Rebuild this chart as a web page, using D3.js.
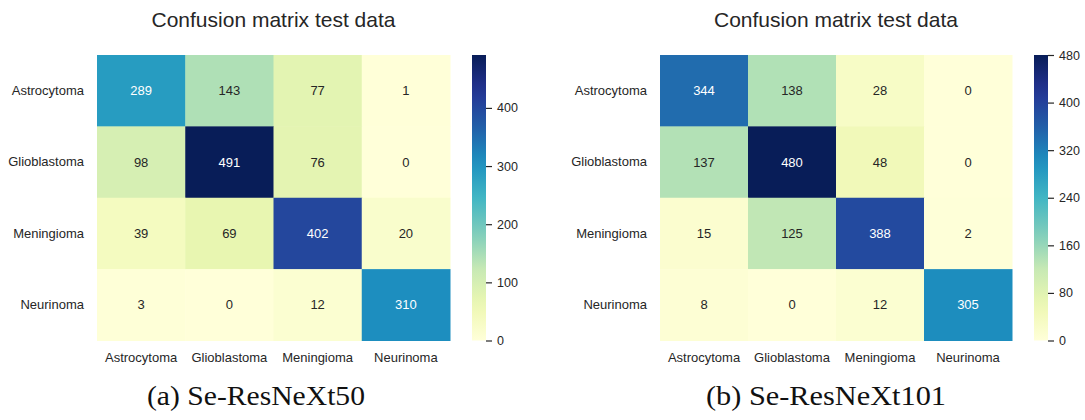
<!DOCTYPE html>
<html>
<head>
<meta charset="utf-8">
<script src="https://cdn.jsdelivr.net/npm/d3@7"></script>
<style>
  html, body { margin: 0; padding: 0; background: #fff; }
  svg { display: block; }
</style>
</head>
<body>
<svg id="chart" width="1085" height="420"></svg>
<script>
// ---------- data ----------
const categories = ["Astrocytoma", "Glioblastoma", "Meningioma", "Neurinoma"];
const matrixA = [
  [289, 143, 77, 1],
  [98, 491, 76, 0],
  [39, 69, 402, 20],
  [3, 0, 12, 310]
];
const matrixB = [
  [344, 138, 28, 0],
  [137, 480, 48, 0],
  [15, 125, 388, 2],
  [8, 0, 12, 305]
];
const colorbarTicksA = [0, 100, 200, 300, 400];
const colorbarTicksB = [0, 80, 160, 240, 320, 400, 480];
const titles = ["Confusion matrix test data", "Confusion matrix test data"];
const captions = ["(a) Se-ResNeXt50", "(b) Se-ResNeXt101"];

// ---------- drawing ----------
const svg = d3.select("#chart");
const palette = d3.schemeYlGnBu[9];
const TEXT = "#262626";
const SANS = "'Liberation Sans', Arial, sans-serif";

function luminance(c) {
  const rgb = d3.rgb(c);
  const f = v => { v /= 255; return v <= 0.03928 ? v / 12.92 : Math.pow((v + 0.055) / 1.055, 2.4); };
  return 0.2126 * f(rgb.r) + 0.7152 * f(rgb.g) + 0.0722 * f(rgb.b);
}

const panels = [
  { matrix: matrixA, ticks: colorbarTicksA, title: titles[0], caption: captions[0],
    x0: 97, x1: 450, cbx: 472, capX: 256, capW: 218, id: "a" },
  { matrix: matrixB, ticks: colorbarTicksB, title: titles[1], caption: captions[1],
    x0: 660, x1: 1012, cbx: 1034, capX: 826, capW: 240, id: "b" }
];
const y0 = 55, y1 = 340.5;

panels.forEach(p => {
  const vmax = d3.max(p.matrix.flat());
  const color = d3.scaleSequential(d3.piecewise(d3.interpolateRgb, palette)).domain([0, vmax]);

  const x = d3.scaleBand().domain(categories).range([p.x0, p.x1]);
  const y = d3.scaleBand().domain(categories).range([y0, y1]);

  const g = svg.append("g");
  const cells = [];
  p.matrix.forEach((row, i) => row.forEach((v, j) => cells.push({ r: categories[i], c: categories[j], v })));

  g.selectAll("rect.cell").data(cells).join("rect")
    .attr("class", "cell")
    .attr("x", d => x(d.c))
    .attr("y", d => y(d.r))
    .attr("width", x.bandwidth() + 0.5)
    .attr("height", y.bandwidth() + 0.5)
    .attr("fill", d => color(d.v));

  g.selectAll("text.ann").data(cells).join("text")
    .attr("class", "ann")
    .attr("x", d => x(d.c) + x.bandwidth() / 2)
    .attr("y", d => y(d.r) + y.bandwidth() / 2)
    .attr("dy", "0.35em")
    .attr("text-anchor", "middle")
    .attr("font-family", SANS)
    .attr("font-size", 13)
    .attr("fill", d => luminance(color(d.v)) > 0.408 ? TEXT : "#ffffff")
    .text(d => d.v);

  // axes
  const ax = g.append("g").attr("transform", `translate(0,${y1})`)
    .call(d3.axisBottom(x).tickSize(0).tickPadding(12));
  const ay = g.append("g").attr("transform", `translate(${p.x0},0)`)
    .call(d3.axisLeft(y).tickSize(0).tickPadding(13));
  [ax, ay].forEach(a => {
    a.select(".domain").remove();
    a.selectAll("text").attr("font-family", SANS).attr("font-size", 13).attr("fill", TEXT);
  });

  // title
  g.append("text")
    .attr("x", (p.x0 + p.x1) / 2)
    .attr("y", 27)
    .attr("text-anchor", "middle")
    .attr("font-family", SANS)
    .attr("font-size", 21)
    .attr("fill", TEXT)
    .text(p.title);

  // colorbar
  const defs = svg.append("defs");
  const grad = defs.append("linearGradient")
    .attr("id", "grad-" + p.id)
    .attr("x1", 0).attr("y1", 1).attr("x2", 0).attr("y2", 0);
  d3.range(0, 1.0001, 0.05).forEach(t => {
    grad.append("stop").attr("offset", t).attr("stop-color", color(t * vmax));
  });
  const cy = d3.scaleLinear().domain([0, vmax]).range([y1, y0]);
  const cbw = 14;
  g.append("rect")
    .attr("x", p.cbx).attr("y", y0)
    .attr("width", cbw).attr("height", y1 - y0)
    .attr("fill", `url(#grad-${p.id})`);
  const ac = g.append("g").attr("transform", `translate(${p.cbx + cbw},0)`)
    .call(d3.axisRight(cy).tickValues(p.ticks).tickSize(6).tickPadding(5));
  ac.select(".domain").remove();
  ac.selectAll("line").attr("stroke", TEXT).attr("stroke-width", 1.2);
  ac.selectAll("text").attr("font-family", SANS).attr("font-size", 12.5).attr("fill", TEXT);

  // caption
  g.append("text")
    .attr("x", p.capX)
    .attr("y", 405)
    .attr("text-anchor", "middle")
    .attr("font-family", "'Liberation Serif', 'Times New Roman', serif")
    .attr("font-size", 27)
    .attr("textLength", p.capW)
    .attr("lengthAdjust", "spacingAndGlyphs")
    .attr("fill", "#111")
    .text(p.caption);
});
</script>
</body>
</html>
